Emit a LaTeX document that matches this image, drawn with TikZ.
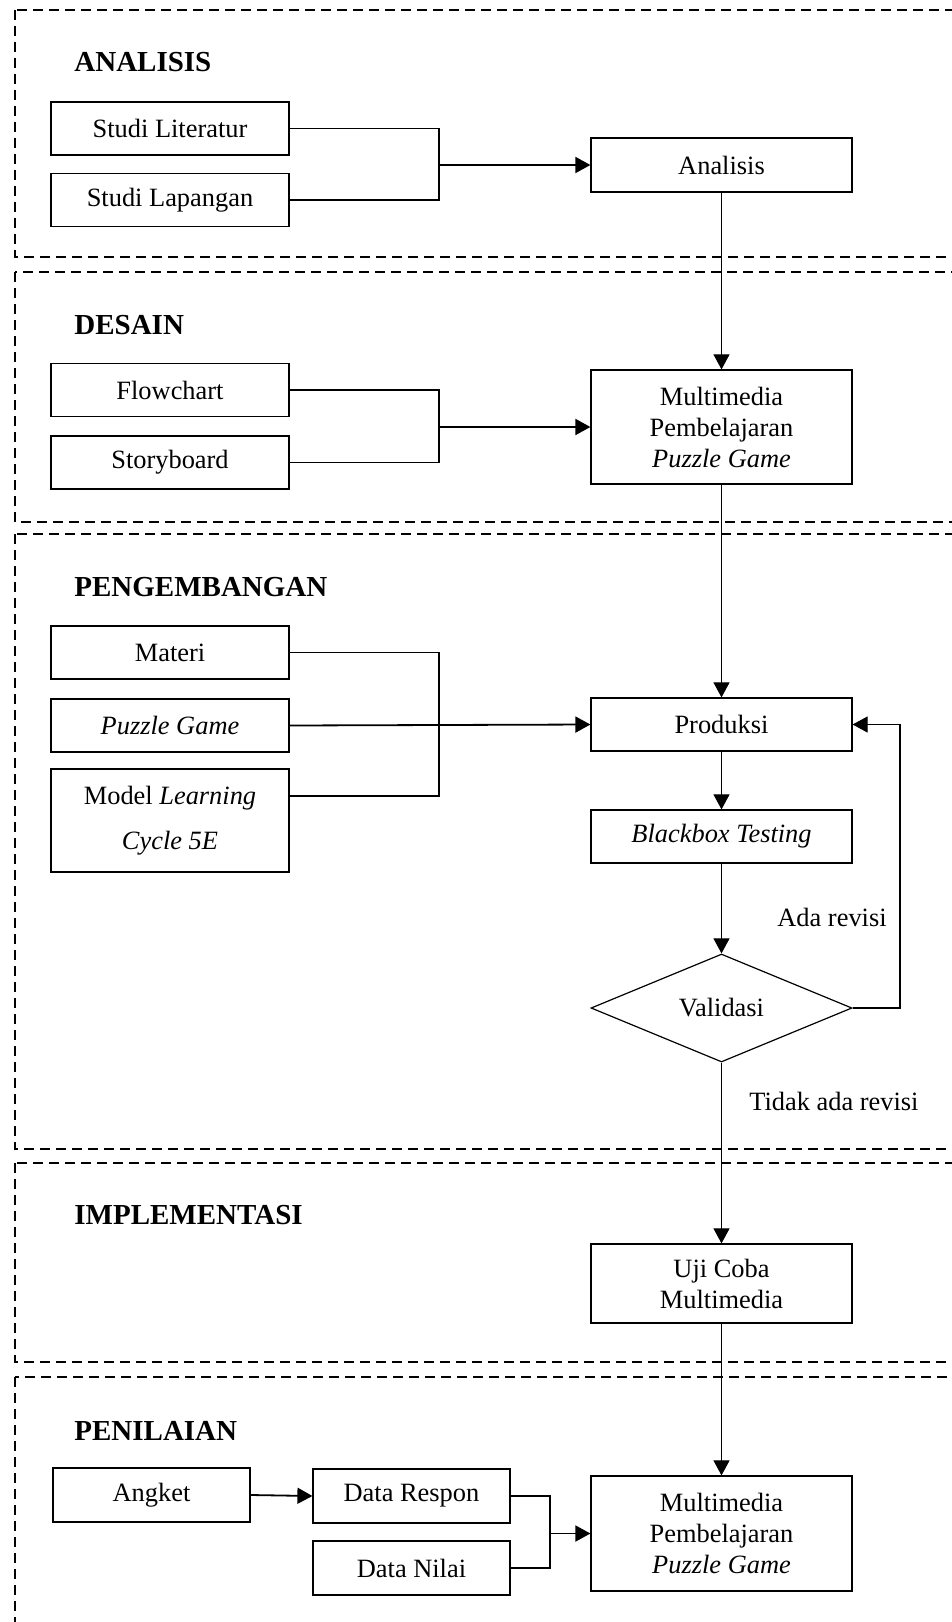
\documentclass[tikz,border=0pt]{standalone}
\usepackage{fontspec}
\setmainfont{Liberation Serif}
\usetikzlibrary{arrows.meta,shapes.geometric}
\begin{document}
\begin{tikzpicture}[x=0.5pt,y=-0.5pt,
  box/.style={draw, line width=0.6pt, inner sep=0pt, align=center, font=\fontsize{13.2pt}{15.5pt}\selectfont},
  lbox/.style={box, minimum width=119pt, minimum height=26.5pt},
  rbox/.style={box, minimum width=130.5pt},
  sbox/.style={box, minimum width=98.5pt, minimum height=27pt},
  frame/.style={draw, dash pattern=on 5pt off 3pt, line width=0.6pt},
  title/.style={anchor=base west, inner sep=0pt, font=\fontsize{14.5pt}{17pt}\selectfont\bfseries},
  lbl/.style={anchor=base west, inner sep=0pt, font=\fontsize{13.2pt}{15.5pt}\selectfont},
  conn/.style={line width=0.55pt},
  arr/.style={conn, -{Triangle[length=7.5pt,width=8pt]}},
  harr/.style={line width=0.9pt, -{Triangle[length=7.5pt,width=8pt]}},
]
\useasboundingbox (0,0) rectangle (952,1622);
\begin{scope}
  \clip (0,0) rectangle (952,1622);
  \draw[frame] (15,10) rectangle (990,257);
  \draw[frame] (15,272) rectangle (990,522);
  \draw[frame] (15,534) rectangle (990,1149);
  \draw[frame] (15,1163) rectangle (990,1362);
  \draw[frame] (15,1377) rectangle (990,1700);
\end{scope}

% titles
\node[title] (t1) at (74,71) {ANALISIS};
\node[title] (t2) at (74,334) {DESAIN};
\node[title] (t3) at (74,596) {PENGEMBANGAN};
\node[title] (t4) at (74,1224) {IMPLEMENTASI};
\node[title] (t5) at (74,1440) {PENILAIAN};

% analisis
\node[lbox] (sl) at (170,128.5) {Studi Literatur};
\node[lbox] (slp) at (170,200) {Studi Lapangan};
\node[rbox, minimum height=27pt] (an) at (721.5,165) {Analisis};

% desain
\node[lbox] (fc) at (170,390) {Flowchart};
\node[lbox] (sb) at (170,462.5) {Storyboard};
\node[rbox, minimum height=57pt] (mm1) at (721.5,427) {Multimedia\\Pembelajaran\\\textit{Puzzle Game}};

% pengembangan
\node[lbox] (mt) at (170,652.5) {Materi};
\node[lbox] (pg) at (170,725.5) {\textit{Puzzle Game}};
\node[lbox, minimum height=51.5pt, font=\fontsize{13.2pt}{22.5pt}\selectfont] (ml) at (170,820.5) {Model \textit{Learning}\\\textit{Cycle 5E}};
\node[rbox, minimum height=26.5pt] (pr) at (721.5,724.5) {Produksi};
\node[rbox, minimum height=26.5pt] (bb) at (721.5,836.5) {\textit{Blackbox Testing}};
\node[box, diamond, aspect=2.4, minimum width=130.5pt, minimum height=54pt] (va) at (721.5,1008) {Validasi};
\node[lbl] (ar) at (777,926) {Ada revisi};
\node[lbl] (tr) at (749,1110) {Tidak ada revisi};

% implementasi
\node[rbox, minimum height=39.5pt] (uc) at (721.5,1283.5) {Uji Coba\\Multimedia};

% penilaian
\node[sbox] (ak) at (151.5,1495) {Angket};
\node[sbox] (dr) at (411.5,1496) {Data Respon};
\node[sbox] (dn) at (411.5,1568) {Data Nilai};
\node[rbox, minimum height=57.5pt] (mm2) at (721.5,1533.5) {Multimedia\\Pembelajaran\\\textit{Puzzle Game}};

% junctions
\coordinate (j1) at (439,165);
\coordinate (j2) at (439,427);
\coordinate (j3) at (439,726);
\coordinate (mlc) at (289,796);
\coordinate (fb) at (900,1008);
\coordinate (j5) at (550,1533.5);

% connectors
\draw[conn] (sl.east) -| (j1) |- (slp.east);
\draw[harr] (j1) -- (an.west);
\draw[conn] (fc.east) -| (j2) |- (sb.east);
\draw[harr] (j2) -- (mm1.west);
\draw[conn] (mt.east) -| (j3) |- (mlc);
\draw[harr] (pg.east) -- (pr.west);

\draw[arr] (an.south) -- (mm1.north);
\draw[arr] (mm1.south) -- (pr.north);
\draw[arr] (pr.south) -- (bb.north);
\draw[arr] (bb.south) -- (va.north);
\draw[arr] (va.south) -- (uc.north);
\draw[arr] (uc.south) -- (mm2.north);
\draw[arr] (va.east) -- (fb) |- (pr.east);

\draw[harr] (ak.east) -- (dr.west);
\draw[conn] (dr.east) -| (j5) |- (dn.east);
\draw[harr] (j5) -- (mm2.west);
\end{tikzpicture}
\end{document}
